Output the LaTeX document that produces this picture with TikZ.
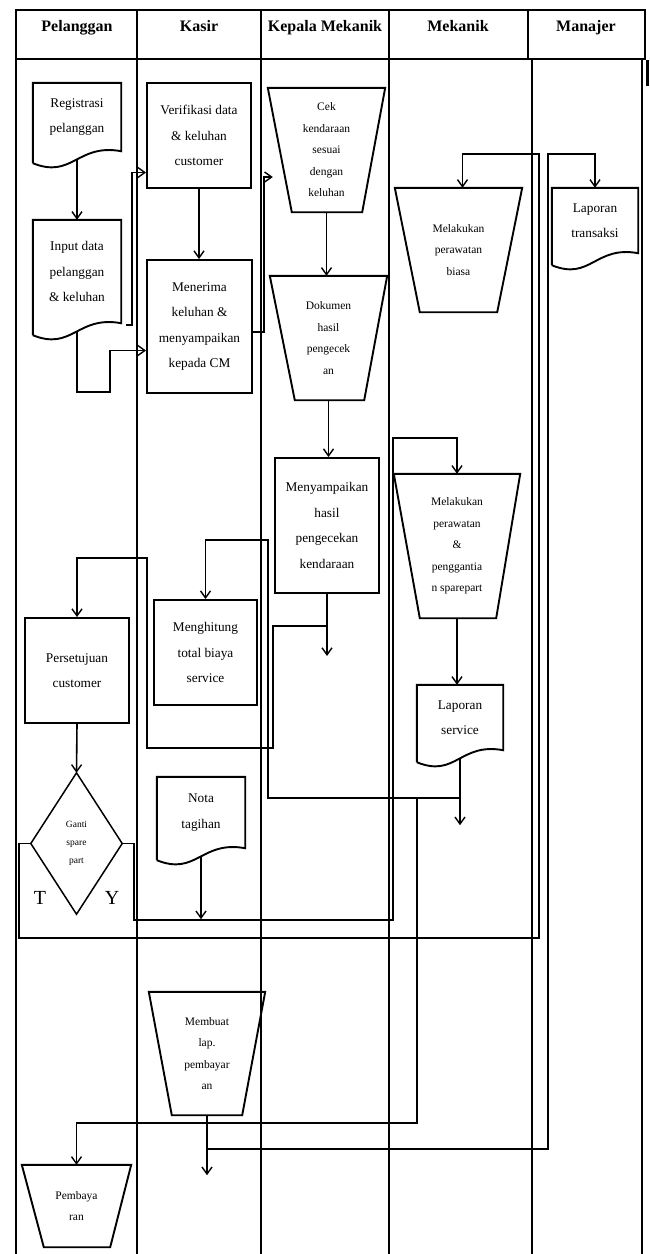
\documentclass[tikz,border=0pt]{standalone}
\usepackage{fontspec}
\setmainfont{Liberation Serif}
\usetikzlibrary{arrows.meta,calc}

% text sizes used in the chart
\newcommand\headfont{\fontsize{16}{18}\selectfont\bfseries}
\newcommand\bodyfont{\fontsize{13.3}{25.5}\selectfont}
\newcommand\smallfont{\fontsize{11.5}{21.5}\selectfont}
\newcommand\tinyfont{\fontsize{9.5}{18}\selectfont}

\tikzset{
  lane/.style={line width=1.3pt},
  shp/.style={line width=1.9pt, line join=miter},
  conn/.style={line width=1.6pt},
  arr/.style={conn, -{Straight Barb[length=7pt,width=10pt,line width=1.4pt]}},
  box/.style={draw, shp, rectangle, inner sep=0pt, align=center, font=\bodyfont},
  ghost/.style={rectangle, inner sep=0pt, align=center},
  head/.style={font=\headfont, anchor=base},
}

% outlines drawn around invisible nodes
\newcommand\docoutline[1]{%
  \draw[shp] ($(#1.south west)+(0,12)$) -- (#1.north west) -- (#1.north east) -- (#1.south east)
    .. controls ($(#1.south west)!0.5!(#1.south east)+(0,-8)$) and ($(#1.south west)!0.45!(#1.south east)+(0,28)$)
    .. ($(#1.south west)+(0,12)$);}
\newcommand\trapoutline[3]{%
  \draw[shp] (#1.north west) -- (#1.north east) -- ($(#1.south east)+(-#3,0)$) -- ($(#1.south west)+(#2,0)$) -- cycle;}
\newcommand\diaoutline[1]{%
  \draw[line width=1.5pt] (#1.north) -- (#1.east) -- (#1.south) -- (#1.west) -- cycle;}

\begin{document}
\begin{tikzpicture}[x=1pt,y=-1pt]
\useasboundingbox (0,0) rectangle (650,1254);

% header row
\draw[shp] (16,10) rectangle (645,59);
\foreach \x in {137,261,389,528} \draw[shp] (\x,10) -- (\x,59);
\node[head] (hP) at (77,31) {Pelanggan};
\node[head] (hK) at (199,31) {Kasir};
\node[head] (hKM) at (325,31) {Kepala Mekanik};
\node[head] (hM) at (458,31) {Mekanik};
\node[head] (hMJ) at (586,31) {Manajer};
\draw[line width=3pt] (647,60) -- (647,86);

% swimlanes
\foreach \x in {16,137,261,389,532,642} \draw[lane] (\x,59) -- (\x,1254);

% Pelanggan
\node[ghost, minimum width=88, minimum height=68, font=\bodyfont] (reg) at (77,117) {Registrasi\\pelanggan};
\docoutline{reg}
\node[ghost, minimum width=88, minimum height=103, font=\bodyfont] (inp) at (77,271.5) {Input data\\pelanggan\\\& keluhan};
\docoutline{inp}
\node[box, minimum width=104, minimum height=105] (pst) at (77,670.5) {Persetujuan\\customer};
\node[ghost, minimum width=91, minimum height=141, font=\tinyfont] (gsp) at (76.5,843.5) {Ganti\\spare\\part};
\diaoutline{gsp}
\node[font=\fontsize{20}{20}\selectfont] (lblT) at (40,898) {T};
\node[font=\fontsize{20}{20}\selectfont] (lblY) at (112,898) {Y};
\node[ghost, minimum width=109, minimum height=82, font=\smallfont] (pby) at (76.5,1206) {Pembaya\\ran};
\trapoutline{pby}{22}{21}

% Kasir
\node[box, minimum width=104, minimum height=105] (ver) at (199,135.5) {Verifikasi data\\\& keluhan\\customer};
\node[box, minimum width=105, minimum height=133] (ter) at (199.5,326.5) {Menerima\\keluhan \&\\menyampaikan\\kepada CM};
\node[box, minimum width=103, minimum height=105] (hit) at (205.5,652.5) {Menghitung\\total biaya\\service};
\node[ghost, minimum width=88, minimum height=71, font=\bodyfont] (nota) at (201,812.5) {Nota\\tagihan};
\docoutline{nota}
\node[ghost, minimum width=116, minimum height=123, font=\smallfont] (mlp) at (207,1053.5) {Membuat\\lap.\\pembayar\\an};
\trapoutline{mlp}{23}{23}

% Kepala Mekanik
\node[ghost, minimum width=117, minimum height=124, font=\smallfont] (cek) at (326.5,150) {Cek\\kendaraan\\sesuai\\dengan\\keluhan};
\trapoutline{cek}{24}{23}
\node[ghost, minimum width=117, minimum height=124, font=\smallfont] (dok) at (328.5,338) {Dokumen\\hasil\\pengecek\\an};
\trapoutline{dok}{25}{23}
\node[box, minimum width=104, minimum height=135] (hsl) at (327,525.5) {Menyampaikan\\hasil\\pengecekan\\kendaraan};

% Mekanik
\node[ghost, minimum width=127, minimum height=124, font=\smallfont] (rwb) at (458.5,250) {Melakukan\\perawatan\\biasa};
\trapoutline{rwb}{25}{25}
\node[ghost, minimum width=126, minimum height=144, font=\smallfont] (rwp) at (457,546) {Melakukan\\perawatan\\\&\\penggantia\\n sparepart};
\trapoutline{rwp}{26}{24}
\node[ghost, minimum width=86, minimum height=65, font=\bodyfont] (lsv) at (460,717.5) {Laporan\\service};
\docoutline{lsv}

% Manajer
\node[ghost, minimum width=86, minimum height=65, font=\bodyfont] (ltr) at (595,220.5) {Laporan\\transaksi};
\docoutline{ltr}

% connectors
\draw[arr] ($(reg.south)+(0,9)$) -- (inp.north);
\draw[arr] ($(inp.south)+(0,9)$) -- ++(0,60) -| ($(ter.west)+(-36,24)$) -- ($(ter.west)+(0,24)$);
\draw[arr] ($(inp.south east)+(5,2)$) -| ($(ver.west)+(-14,37)$) -- ($(ver.west)+(0,37)$);
\draw[arr] (ver.south) -- (ver.south |- ter.north);
\draw[arr] ($(ter.east)+(0,5.5)$) -| ($(cek.west)+(-4,27)$) -- ($(cek.west)+(5,27)$);
\draw[arr] (cek.south) -- (cek.south |- dok.north);
\draw[arr] (dok.south) -- (dok.south |- hsl.north);
\coordinate (hslend) at ($(hsl.south)+(0,62)$);
\draw[arr] (hsl.south) -- (hslend);
\draw[arr] ($(hsl.south)+(0,32)$) -| (273,748) -| (147,558) -| (pst.north);
\draw[arr] (pst.south) -- (gsp.north);
\draw[arr] (gsp.west) -| (19,938) -| (539,154) -| ($(rwb.north)+(4,0)$);
\draw[arr] (gsp.east) -| (134,920) -| (393,438) -| (rwp.north);
\coordinate (notaend) at ($(nota.south)+(0,71)$);
\draw[arr] ($(nota.south)+(0,9)$) -- (notaend);
\draw[arr] (rwp.south) -- (rwp.south |- lsv.north);
\coordinate (lsvend) at ($(lsv.south)+(0,75)$);
\draw[arr] ($(lsv.south)+(0,9)$) -- (lsvend);
\draw[arr] ($(lsv.south)+(0,48)$) -| (268,540) -| (hit.north);
\draw[arr] ($(lsv.south)+(-43,48)$) |- ($(pby.north)+(0,-42)$) -- (pby.north);
\coordinate (mlpend) at ($(mlp.south)+(0,60)$);
\draw[arr] (mlp.south) -- (mlpend);
\draw[arr] ($(mlp.south)+(0,34)$) -| (548,154) -| (ltr.north);
\end{tikzpicture}
\end{document}
